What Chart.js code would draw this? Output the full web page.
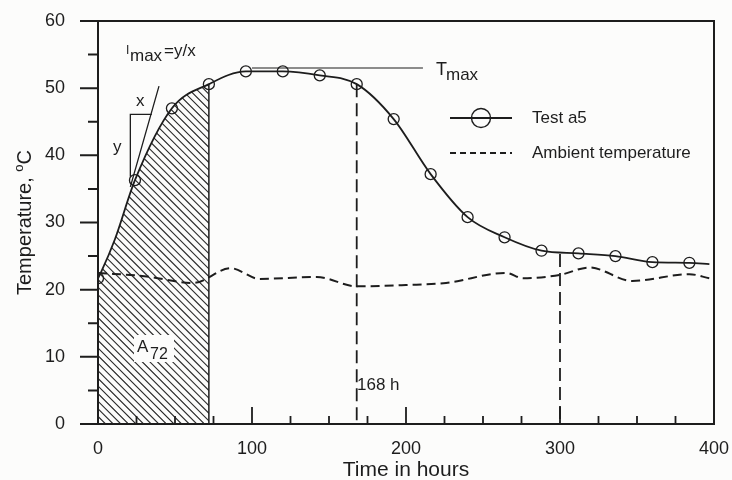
<!DOCTYPE html>
<html>
<head>
<meta charset="utf-8">
<title>Temperature development</title>
<script src="https://cdn.jsdelivr.net/npm/chart.js@4.4.1/dist/chart.umd.min.js"></script>
<style>
  html, body { margin: 0; padding: 0; background: #fcfcfb; }
  #wrap { width: 732px; height: 480px; }
</style>
</head>
<body>
<div id="wrap"><canvas id="tempChart" width="732" height="480"></canvas></div>
<script>
// values
const testHours = [0, 2, 11, 24, 48, 72, 96, 120, 144, 168, 192, 216, 240, 264, 288, 312, 336, 360, 384, 397];
const testTemp = [21.7, 22.6, 27.5, 36.3, 47.0, 50.6, 52.5, 52.5, 51.9, 50.6, 45.4, 37.2, 30.8, 27.8, 25.8, 25.4, 25.0, 24.1, 24.0, 23.8];
const markerStep = 24;

const ambientHours = [0, 30, 62, 86, 105, 142, 168, 200, 226, 265, 276, 300, 319, 347, 384, 397];
const ambientTemp = [22.5, 22.0, 21.0, 23.2, 21.6, 21.9, 20.5, 20.7, 21.0, 22.5, 21.7, 22.2, 23.3, 21.3, 22.3, 21.7];

const xTicks = [0, 100, 200, 300, 400];
const yTicks = [0, 10, 20, 30, 40, 50, 60];

// annotations
const hatchEnd = 72;
const dropHours = [168, 300];
const dropTemp = [50.6, 25.3];
const tmaxHours = [100, 211];
const tmaxTemp = 53;
const tangentHours = [21, 39.6];
const tangentTemp = [35.3, 50.3];

const ink = '#1d1d1d';
const font = '"Liberation Sans", Arial, sans-serif';

const toXY = (xs, ys) => xs.map((x, i) => ({ x: x, y: ys[i] }));

// hatched area A72 under the test curve
const hatchPlugin = {
  id: 'hatch',
  beforeDatasetsDraw(chart) {
    const ctx = chart.ctx;
    const pts = chart.getDatasetMeta(0).data;
    const last = testHours.indexOf(hatchEnd);
    const base = chart.scales.y.getPixelForValue(0);
    const top = chart.chartArea.top;
    ctx.save();
    ctx.beginPath();
    ctx.moveTo(pts[0].x, base);
    ctx.lineTo(pts[0].x, pts[0].y);
    for (let i = 1; i <= last; i++) {
      const p = pts[i - 1], c = pts[i];
      ctx.bezierCurveTo(p.cp2x, p.cp2y, c.cp1x, c.cp1y, c.x, c.y);
    }
    ctx.lineTo(pts[last].x, base);
    ctx.closePath();
    ctx.clip();
    ctx.strokeStyle = '#2a2a2a';
    ctx.lineWidth = 1.1;
    ctx.beginPath();
    const h = base - top;
    for (let s = pts[0].x - h; s < pts[last].x + 2; s += 7.6) {
      ctx.moveTo(s, top);
      ctx.lineTo(s + h, base);
    }
    ctx.stroke();
    ctx.restore();

    ctx.save();
    ctx.strokeStyle = ink;
    ctx.lineWidth = 1.5;
    ctx.beginPath();
    ctx.moveTo(pts[last].x, pts[last].y);
    ctx.lineTo(pts[last].x, base);
    ctx.stroke();

    // A72 label on a white patch
    ctx.fillStyle = '#fcfcfb';
    ctx.fillRect(134, 335, 40, 27);
    ctx.fillStyle = ink;
    ctx.textBaseline = 'alphabetic';
    ctx.font = '17px ' + font;
    ctx.fillText('A', 137, 352);
    ctx.font = '16px ' + font;
    ctx.fillText('72', 150, 359);
    ctx.restore();
  }
};

const framePlugin = {
  id: 'frame',
  afterDatasetsDraw(chart) {
    const ctx = chart.ctx;
    const sx = chart.scales.x, sy = chart.scales.y;
    const X = v => sx.getPixelForValue(v);
    const Y = v => sy.getPixelForValue(v);
    const a = chart.chartArea;

    ctx.save();
    ctx.strokeStyle = ink;
    ctx.lineCap = 'butt';

    // vertical dashed markers
    ctx.lineWidth = 1.8;
    ctx.setLineDash([13, 6]);
    dropHours.forEach((hr, i) => {
      ctx.beginPath();
      ctx.moveTo(X(hr), Y(dropTemp[i]));
      ctx.lineTo(X(hr), Y(0));
      ctx.stroke();
    });
    ctx.setLineDash([]);

    // frame
    ctx.lineWidth = 2;
    ctx.beginPath();
    ctx.moveTo(a.left - 18, a.top);
    ctx.lineTo(a.right, a.top);
    ctx.lineTo(a.right, a.bottom);
    ctx.lineTo(a.left - 18, a.bottom);
    ctx.moveTo(a.left, a.top);
    ctx.lineTo(a.left, a.bottom);
    ctx.stroke();

    // y ticks, outside
    ctx.beginPath();
    for (let v = 5; v < 60; v += 5) {
      const len = v % 10 === 0 ? 18 : 10;
      ctx.moveTo(a.left - len, Y(v));
      ctx.lineTo(a.left, Y(v));
    }
    ctx.stroke();

    // x ticks, inside
    ctx.lineWidth = 1.8;
    ctx.beginPath();
    for (let v = 25; v < 400; v += 25) {
      const len = v % 100 === 0 ? 17 : 8;
      ctx.moveTo(X(v), a.bottom);
      ctx.lineTo(X(v), a.bottom - len);
    }
    ctx.stroke();

    // Tmax line
    ctx.lineWidth = 1.2;
    ctx.beginPath();
    ctx.moveTo(X(tmaxHours[0]), Y(tmaxTemp));
    ctx.lineTo(X(tmaxHours[1]), Y(tmaxTemp));
    ctx.stroke();

    // tangent with slope triangle
    ctx.lineWidth = 1.3;
    ctx.beginPath();
    ctx.moveTo(X(tangentHours[0]), Y(tangentTemp[0]));
    ctx.lineTo(X(tangentHours[1]), Y(tangentTemp[1]));
    ctx.moveTo(X(21), Y(36.8));
    ctx.lineTo(X(21), Y(46.1));
    ctx.lineTo(X(35), Y(46.1));
    ctx.stroke();

    // texts
    ctx.fillStyle = ink;
    ctx.textBaseline = 'alphabetic';
    ctx.textAlign = 'left';
    ctx.font = '12px ' + font;
    ctx.fillText('I', 126, 54);
    ctx.font = '17px ' + font;
    ctx.fillText('max', 130, 61);
    ctx.fillText('=y/x', 164, 56);
    ctx.fillText('x', 136, 106);
    ctx.fillText('y', 113, 152);

    ctx.font = '18px ' + font;
    ctx.fillText('T', 436, 75);
    ctx.font = '17px ' + font;
    ctx.fillText('max', 446, 80);

    ctx.fillText('168 h', 357, 390);

    // legend
    ctx.lineWidth = 1.8;
    ctx.beginPath();
    ctx.moveTo(450, 118);
    ctx.lineTo(512, 118);
    ctx.stroke();
    ctx.lineWidth = 1.4;
    ctx.beginPath();
    ctx.arc(481, 118, 9.5, 0, Math.PI * 2);
    ctx.stroke();
    ctx.lineWidth = 1.8;
    ctx.setLineDash([6, 4]);
    ctx.beginPath();
    ctx.moveTo(450, 153);
    ctx.lineTo(512, 153);
    ctx.stroke();
    ctx.setLineDash([]);
    ctx.font = '17px ' + font;
    ctx.textBaseline = 'middle';
    ctx.fillText(chart.data.datasets[0].label, 532, 118);
    ctx.fillText(chart.data.datasets[1].label, 532, 153);

    // axis titles
    ctx.textBaseline = 'alphabetic';
    ctx.textAlign = 'center';
    ctx.font = '21px ' + font;
    ctx.fillText('Time in hours', (a.left + a.right) / 2, 476);

    ctx.translate(31, (a.top + a.bottom) / 2);
    ctx.rotate(-Math.PI / 2);
    ctx.textAlign = 'left';
    const main = 'Temperature, ';
    ctx.font = '20px ' + font;
    const w1 = ctx.measureText(main).width;
    const wc = ctx.measureText('C').width;
    ctx.font = '13px ' + font;
    const wo = ctx.measureText('o').width;
    let s = -(w1 + wo + wc) / 2;
    ctx.font = '20px ' + font;
    ctx.fillText(main, s, 0);
    ctx.font = '13px ' + font;
    ctx.fillText('o', s + w1, -8);
    ctx.font = '20px ' + font;
    ctx.fillText('C', s + w1 + wo, 0);
    ctx.restore();
  }
};

const noPad = (s) => {
  s.paddingTop = 0;
  s.paddingBottom = 0;
  s.paddingLeft = 0;
  s.paddingRight = 0;
};

const canvas = document.getElementById('tempChart');
const chart = new Chart(canvas.getContext('2d'), {
  type: 'line',
  data: {
    datasets: [
      {
        label: 'Test a5',
        data: toXY(testHours, testTemp),
        borderColor: ink,
        borderWidth: 1.8,
        cubicInterpolationMode: 'monotone',
        tension: 0.4,
        pointRadius: testHours.map(h => (h % markerStep === 0 ? 5.5 : 0)),
        pointBorderWidth: 1.3,
        pointBorderColor: ink,
        pointBackgroundColor: 'rgba(0,0,0,0)',
        fill: false,
      },
      {
        label: 'Ambient temperature',
        data: toXY(ambientHours, ambientTemp),
        borderColor: ink,
        borderWidth: 2,
        borderDash: [9, 5],
        cubicInterpolationMode: 'monotone',
        tension: 0.4,
        pointRadius: 0,
        fill: false,
      },
    ],
  },
  options: {
    responsive: false,
    animation: false,
    layout: { padding: { left: 0, right: 18, top: 21, bottom: 0 } },
    plugins: { legend: { display: false }, tooltip: { enabled: false } },
    scales: {
      x: {
        type: 'linear',
        min: 0,
        max: 400,
        afterBuildTicks: (s) => { s.ticks = xTicks.map(v => ({ value: v })); },
        afterFit: (s) => { s.height = 56; noPad(s); },
        grid: { display: false, drawTicks: false },
        border: { display: false },
        ticks: { color: ink, padding: 14, maxRotation: 0, font: { family: font, size: 18 } },
      },
      y: {
        min: 0,
        max: 60,
        afterBuildTicks: (s) => { s.ticks = yTicks.map(v => ({ value: v })); },
        afterFit: (s) => { s.width = 98; noPad(s); },
        grid: { display: false, drawTicks: false },
        border: { display: false },
        ticks: { color: ink, padding: 33, font: { family: font, size: 18 } },
      },
    },
  },
  plugins: [hatchPlugin, framePlugin],
});
</script>
</body>
</html>
